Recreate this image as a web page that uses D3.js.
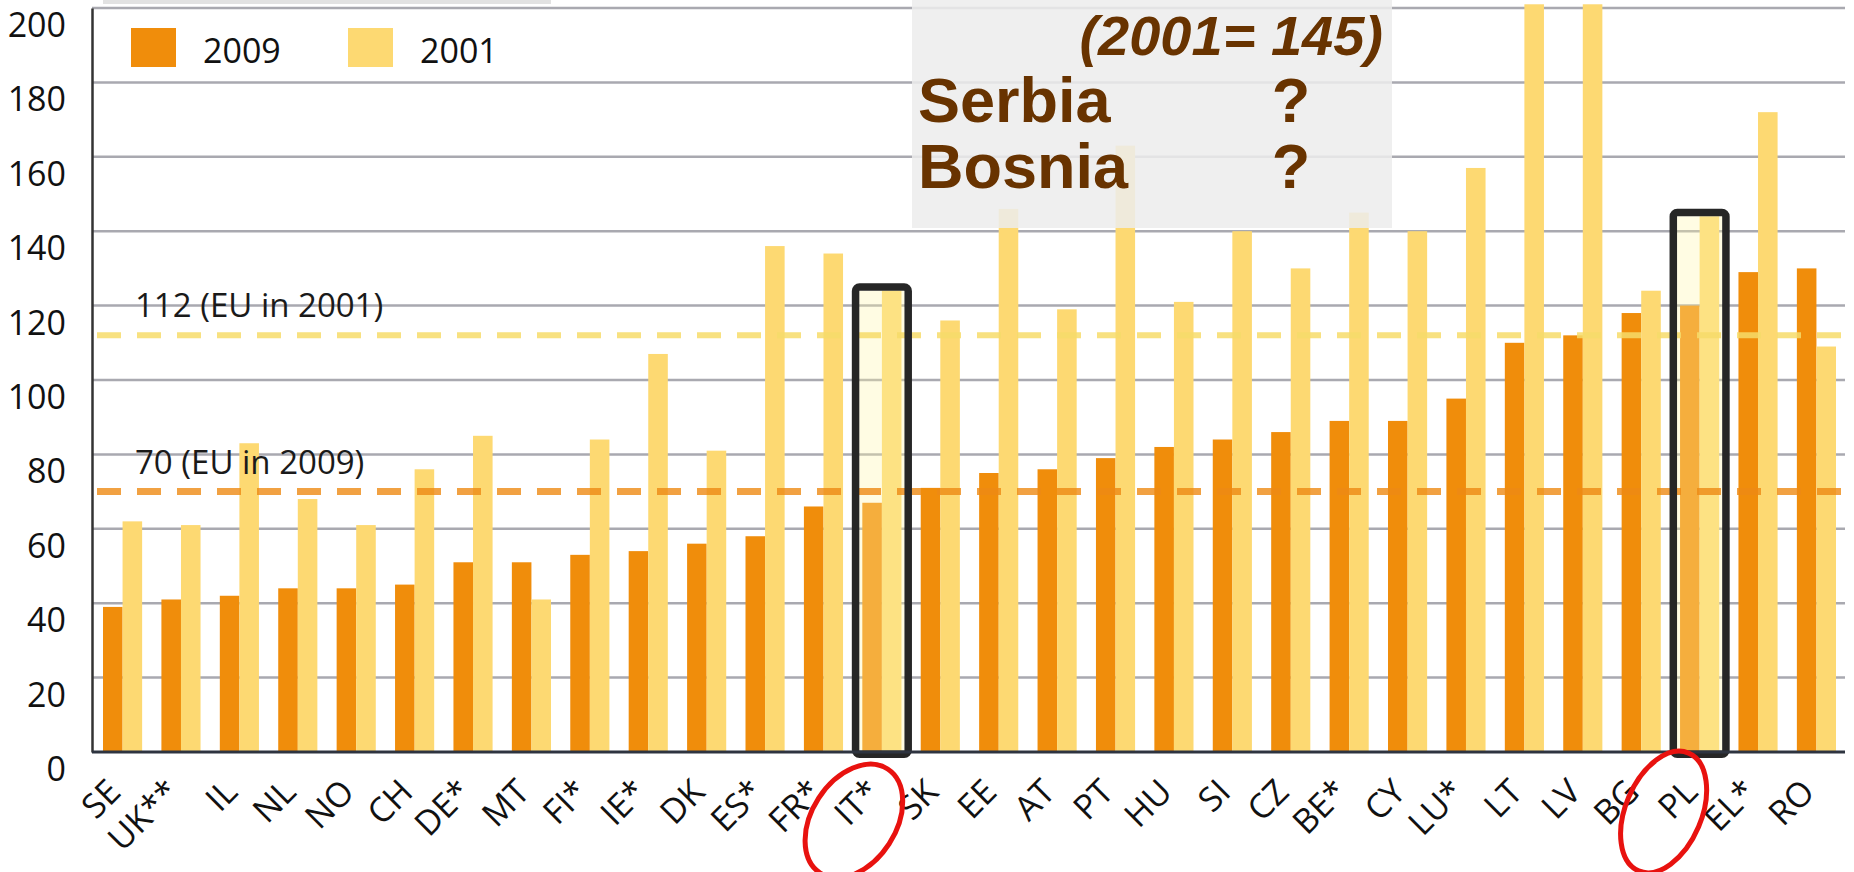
<!DOCTYPE html>
<html>
<head>
<meta charset="utf-8">
<script src="https://cdn.jsdelivr.net/npm/d3@7"></script>
<style>
  body { margin: 0; background: #fff; }
  svg { display: block; }
</style>
</head>
<body>
<div id="chart"></div>
<script>
// countries, in the order of the original chart
const countries = ["SE","UK**","IL","NL","NO","CH","DE*","MT","FI*","IE*","DK","ES*","FR*","IT*","SK","EE","AT","PT","HU","SI","CZ","BE*","CY","LU*","LT","LV","BG","PL","EL*","RO"];
// values
const values2009 = [39,41,42,44,44,45,51,51,53,54,56,58,66,67,71,75,76,79,82,84,86,89,89,95,110,112,118,120,129,130];
const values2001 = [62,61,83,68,61,76,85,41,84,107,81,136,134,124,116,146,119,163,121,140,130,145,140,157,201,201,124,144,172,109];
const series = ["2009", "2001"];
const yTicks = [0,20,40,60,80,100,120,140,160,180,200];
const refLines = [{value: 112, label: "112 (EU in 2001)"}, {value: 70, label: "70 (EU in 2009)"}];
const highlighted = ["IT*", "PL"];
const noteLines = ["Serbia", "Bosnia"];

const width = 1854, height = 872;
const colors = {"2009": "#f08d0b", "2001": "#fdd972"};

const svg = d3.select("#chart").append("svg")
  .attr("width", width)
  .attr("height", height);

const x = d3.scaleBand()
  .domain(countries)
  .range([103, 1836])
  .paddingInner(0.33)
  .paddingOuter(0);

const xSub = d3.scaleBand()
  .domain(series)
  .range([0, x.bandwidth()]);

const y = d3.scaleLinear()
  .domain([0, 200])
  .range([752, 8]);

const data = countries.map((c, i) => ({country: c, "2009": values2009[i], "2001": values2001[i]}));

// faint strip at very top
svg.append("rect")
  .attr("x", 103).attr("y", 0)
  .attr("width", 448).attr("height", 4)
  .attr("fill", "#e2e2e2");

// gridlines
svg.append("g")
  .selectAll("line")
  .data(yTicks.filter(d => d > 0))
  .join("line")
    .attr("x1", 92).attr("x2", 1845)
    .attr("y1", d => y(d)).attr("y2", d => y(d))
    .attr("stroke", "#a9a9b0")
    .attr("stroke-width", 2.5);

// bars
const groups = svg.append("g")
  .selectAll("g")
  .data(data)
  .join("g")
    .attr("transform", d => `translate(${x(d.country)},0)`);

groups.selectAll("rect")
  .data(d => series.map(s => ({key: s, value: d[s]})))
  .join("rect")
    .attr("x", d => xSub(d.key))
    .attr("y", d => y(d.value))
    .attr("width", xSub.bandwidth())
    .attr("height", d => y(0) - y(d.value))
    .attr("fill", d => colors[d.key]);

// pale overlay inside highlight boxes
const pad = 3;
svg.append("g")
  .selectAll("rect")
  .data(data.filter(d => highlighted.includes(d.country)))
  .join("rect")
    .attr("x", d => x(d.country) - pad)
    .attr("y", d => y(d["2001"]))
    .attr("width", x.bandwidth() + 2 * pad)
    .attr("height", d => y(0) - y(d["2001"]))
    .attr("fill", "#fff5a8")
    .attr("opacity", 0.32);

// reference dashed lines
svg.append("line")
  .attr("x1", 97).attr("x2", width)
  .attr("y1", y(refLines[0].value)).attr("y2", y(refLines[0].value))
  .attr("stroke", "#f7dc6a")
  .attr("stroke-width", 6)
  .attr("stroke-dasharray", "24,16")
  .attr("opacity", 0.85);

svg.append("line")
  .attr("x1", 97).attr("x2", width)
  .attr("y1", y(refLines[1].value)).attr("y2", y(refLines[1].value))
  .attr("stroke", "#ee8a14")
  .attr("stroke-width", 7)
  .attr("stroke-dasharray", "24,16")
  .attr("opacity", 0.8);

svg.append("g")
  .selectAll("text")
  .data(refLines)
  .join("text")
    .attr("x", 135)
    .attr("y", d => y(d.value) - 18)
    .attr("font-family", "'Open Sans', sans-serif")
    .attr("font-size", 33)
    .attr("fill", "#1a1a1a")
    .text(d => d.label);

// grey note box (semi transparent, bars fade under it)
svg.append("rect")
  .attr("x", 912).attr("y", 0)
  .attr("width", 480).attr("height", 228)
  .attr("fill", "#ececec")
  .attr("opacity", 0.86);

svg.append("text")
  .attr("x", 1383).attr("y", 55)
  .attr("text-anchor", "end")
  .attr("font-family", "'Liberation Sans', Arial, sans-serif")
  .attr("font-weight", "bold")
  .attr("font-style", "italic")
  .attr("font-size", 56)
  .attr("fill", "#683300")
  .text("(2001= 145)");

const notes = svg.append("g")
  .selectAll("g")
  .data(noteLines)
  .join("g")
    .attr("font-family", "'Liberation Sans', Arial, sans-serif")
    .attr("font-weight", "bold")
    .attr("font-size", 63)
    .attr("fill", "#683300");

notes.append("text")
  .attr("x", 918)
  .attr("y", (d, i) => 122 + i * 66)
  .text(d => d);

notes.append("text")
  .attr("x", 1291)
  .attr("y", (d, i) => 122 + i * 66)
  .attr("text-anchor", "middle")
  .text("?");

// black highlight boxes
svg.append("g")
  .selectAll("rect")
  .data(data.filter(d => highlighted.includes(d.country)))
  .join("rect")
    .attr("x", d => x(d.country) - pad - 3.75)
    .attr("y", d => y(d["2001"]) - 3.75)
    .attr("width", x.bandwidth() + 2 * pad + 7.5)
    .attr("height", d => y(0) - y(d["2001"]) + 6)
    .attr("rx", 4)
    .attr("fill", "none")
    .attr("stroke", "#262626")
    .attr("stroke-width", 7.5);

// y axis
const yAxis = svg.append("g")
  .attr("transform", "translate(92,0)")
  .call(d3.axisLeft(y).tickValues(yTicks).tickSize(0).tickPadding(26));

yAxis.select(".domain")
  .attr("stroke", "#333")
  .attr("stroke-width", 2.5);

yAxis.selectAll("text")
  .attr("dy", "0.72em")
  .attr("y", 4)
  .attr("font-family", "'Open Sans', sans-serif")
  .attr("font-size", 34)
  .attr("fill", "#111");

// baseline
svg.append("line")
  .attr("x1", 92).attr("x2", 1845)
  .attr("y1", y(0)).attr("y2", y(0))
  .attr("stroke", "#2e3440")
  .attr("stroke-width", 3);

// x axis labels
const xAxis = svg.append("g")
  .attr("transform", `translate(0,${y(0)})`)
  .call(d3.axisBottom(x).tickSize(0));

xAxis.select(".domain").remove();

xAxis.selectAll("text")
  .attr("x", 0).attr("y", 0).attr("dy", 0)
  .attr("text-anchor", "end")
  .attr("transform", "translate(0,42) rotate(-45)")
  .attr("font-family", "'Open Sans', sans-serif")
  .attr("font-size", 34)
  .attr("fill", "#111");

// legend
const legend = svg.append("g")
  .selectAll("g")
  .data(series)
  .join("g")
    .attr("transform", (d, i) => `translate(${131 + i * 217},28)`);

legend.append("rect")
  .attr("width", 45).attr("height", 39)
  .attr("fill", d => colors[d]);

legend.append("text")
  .attr("x", 72).attr("y", 35)
  .attr("font-family", "'Open Sans', sans-serif")
  .attr("font-size", 34)
  .attr("fill", "#111")
  .text(d => d);

// red ellipses around the circled labels
const circled = [
  {country: "IT*", dx: -28, cy: 821, rx: 62, ry: 42, angle: -57},
  {country: "PL", dx: -36, cy: 812, rx: 64, ry: 38, angle: -67}
];

svg.append("g")
  .selectAll("ellipse")
  .data(circled)
  .join("ellipse")
    .attr("transform", d => `translate(${x(d.country) + x.bandwidth() / 2 + d.dx},${d.cy}) rotate(${d.angle})`)
    .attr("rx", d => d.rx)
    .attr("ry", d => d.ry)
    .attr("fill", "none")
    .attr("stroke", "#e8120f")
    .attr("stroke-width", 5);
</script>
</body>
</html>
